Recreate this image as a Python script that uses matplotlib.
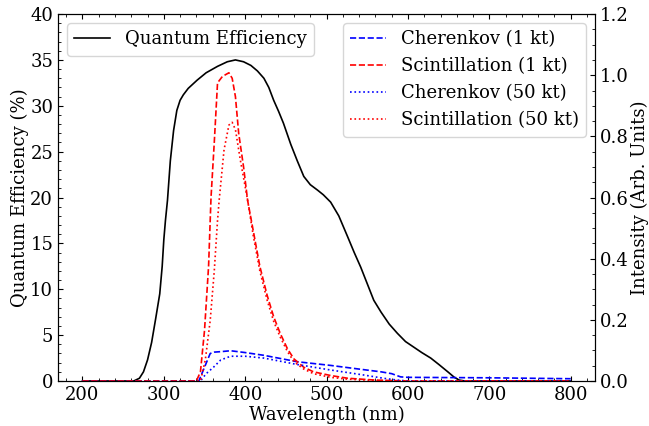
import matplotlib
matplotlib.use('Agg')
import matplotlib.pyplot as plt

plt.rcParams['font.family'] = 'DejaVu Serif'
plt.rcParams['font.size'] = 13

# quantum efficiency (%) vs wavelength (nm)
qe_wl = [200, 263, 270, 275, 280, 285, 290, 295, 298, 300, 302, 304.5, 308, 312, 316,
         320, 324, 330, 341, 352, 366, 378, 388, 398, 407, 415, 423, 429, 435, 441,
         447, 456, 464, 472, 480, 489, 496, 505, 515, 526, 534, 542, 550, 558, 567,
         577, 587, 597, 607, 617, 628, 638, 649, 657, 663, 670, 800]
qe_val = [0, 0, 0.3, 1.0, 2.3, 4.2, 6.8, 9.5, 12.5, 15.4, 17.5, 19.7, 24.0, 27.3, 29.5,
          30.6, 31.2, 31.9, 32.8, 33.6, 34.3, 34.8, 35.0, 34.8, 34.4, 33.8, 33.0, 32.0, 30.6, 29.4,
          28.1, 25.8, 24.0, 22.3, 21.4, 20.8, 20.3, 19.5, 18.0, 15.7, 14.0, 12.4, 10.6, 8.8, 7.5,
          6.2, 5.2, 4.3, 3.7, 3.1, 2.5, 1.8, 1.0, 0.4, 0.1, 0, 0]

# emission spectra (arb. units)
scint1_wl = [200, 340, 345, 350, 355, 358, 362, 366, 372, 376, 380, 384, 388, 392, 398,
             403, 410, 418, 427, 435, 443, 452, 460, 472, 484, 505, 526, 560, 600, 800]
scint1_val = [0, 0, 0.03, 0.165, 0.375, 0.6, 0.78, 0.975, 0.996, 1.002, 1.008, 0.99, 0.93, 0.81, 0.70,
              0.59, 0.49, 0.375, 0.28, 0.21, 0.156, 0.105, 0.072, 0.045, 0.03, 0.018, 0.009, 0.003, 0, 0]
scint50_wl = [200, 345, 351, 357, 362, 366, 368, 374, 380, 384, 388, 394, 403, 410, 418,
              427, 435, 443, 452, 460, 472, 484, 505, 526, 560, 600, 800]
scint50_val = [0, 0, 0.069, 0.198, 0.36, 0.525, 0.591, 0.756, 0.837, 0.846, 0.822, 0.723, 0.591, 0.474, 0.36,
               0.264, 0.195, 0.144, 0.096, 0.063, 0.039, 0.024, 0.012, 0.006, 0.0015, 0, 0]
cher1_wl = [200, 343, 350, 357, 362, 370, 382, 400, 423, 464, 505, 540, 567, 580, 591, 600, 700, 800]
cher1_val = [0, 0, 0.045, 0.09, 0.0945, 0.096, 0.099, 0.093, 0.084, 0.063, 0.051, 0.039, 0.03, 0.024,
             0.0135, 0.012, 0.0105, 0.0075]
cher50_wl = [200, 345, 352, 361, 370, 382, 400, 423, 464, 505, 546, 570, 587, 600, 800]
cher50_val = [0, 0, 0.024, 0.045, 0.069, 0.081, 0.081, 0.075, 0.054, 0.036, 0.0195, 0.009, 0.003, 0, 0]

fig, ax = plt.subplots(figsize=(6.49, 4.26), dpi=100)
fig.subplots_adjust(left=0.0894, right=0.917, bottom=0.1056, top=0.967)
ax2 = ax.twinx()

ax.plot(qe_wl, qe_val, color='black', linestyle='solid', linewidth=1.2, label='Quantum Efficiency')
ax2.plot(cher1_wl, cher1_val, color='blue', linestyle='dashed', linewidth=1.2, label='Cherenkov (1 kt)')
ax2.plot(scint1_wl, scint1_val, color='red', linestyle='dashed', linewidth=1.2, label='Scintillation (1 kt)')
ax2.plot(cher50_wl, cher50_val, color='blue', linestyle='dotted', linewidth=1.2, label='Cherenkov (50 kt)')
ax2.plot(scint50_wl, scint50_val, color='red', linestyle='dotted', linewidth=1.2, label='Scintillation (50 kt)')

ax.set_ylim(0, 40)
ax2.set_ylim(0, 1.2)
ax.set_xlabel('Wavelength (nm)', labelpad=1)
ax.set_ylabel('Quantum Efficiency (%)', labelpad=1)
ax2.set_ylabel('Intensity (Arb. Units)', labelpad=1)

ax.minorticks_on()
ax2.minorticks_on()
ax.tick_params(which='both', direction='in', top=True, right=False)
ax2.tick_params(which='both', direction='in')

ax.legend(loc='upper left')
ax2.legend(loc='upper right')

plt.savefig('out.png')
